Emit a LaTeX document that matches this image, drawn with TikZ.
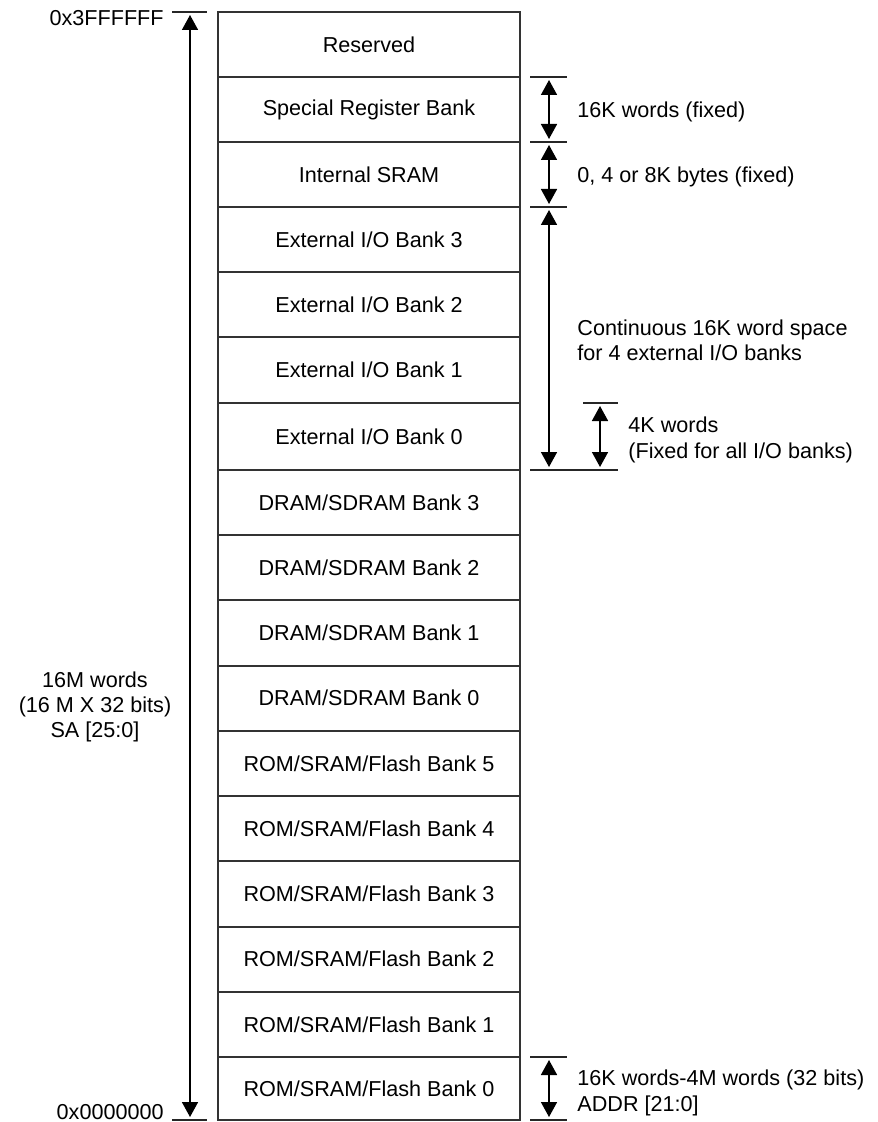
\documentclass[tikz,border=0pt]{standalone}
\usepackage{fontspec}
\setmainfont{Liberation Sans}
\usetikzlibrary{arrows.meta}
\newcommand{\memrow}[4]{\node[rowbox, minimum height={(#3-#2)*0.5pt}] (#1) at (369,{(#2+#3)/2}) {#4};}
\begin{document}
\begin{tikzpicture}[x=0.5pt,y=-0.5pt,
  every node/.style={font=\fontsize{10.8}{12.6}\selectfont, text=black, inner sep=0pt},
  rowbox/.style={draw=black!80, line width=1pt, minimum width=151pt, anchor=center},
  tickline/.style={line width=0.8pt, draw=black!85},
  dim/.style={line width=0.8pt, draw=black, {Triangle[length=7.5pt,width=8pt]}-{Triangle[length=7.5pt,width=8pt]}, shorten >=1.5pt, shorten <=1.5pt},
  lbl/.style={anchor=west, align=left}]
\useasboundingbox (0,0) rectangle (877,1122);
\fill[white] (0,0) rectangle (877,1122);
% memory map rows
\memrow{r16}{12}{77}{Reserved}
\memrow{r15}{77}{142}{Special Register Bank}
\memrow{r14}{142}{207}{Internal SRAM}
\memrow{r13}{207}{272}{External I/O Bank 3}
\memrow{r12}{272}{337}{External I/O Bank 2}
\memrow{r11}{337}{403}{External I/O Bank 1}
\memrow{r10}{403}{470}{External I/O Bank 0}
\memrow{r9}{470}{535.2}{DRAM/SDRAM Bank 3}
\memrow{r8}{535.2}{600.4}{DRAM/SDRAM Bank 2}
\memrow{r7}{600.4}{665.6}{DRAM/SDRAM Bank 1}
\memrow{r6}{665.6}{730.9}{DRAM/SDRAM Bank 0}
\memrow{r5}{730.9}{796.1}{ROM/SRAM/Flash Bank 5}
\memrow{r4}{796.1}{861.3}{ROM/SRAM/Flash Bank 4}
\memrow{r3}{861.3}{926.5}{ROM/SRAM/Flash Bank 3}
\memrow{r2}{926.5}{991.8}{ROM/SRAM/Flash Bank 2}
\memrow{r1}{991.8}{1057}{ROM/SRAM/Flash Bank 1}
\memrow{r0}{1057}{1120}{ROM/SRAM/Flash Bank 0}
% left dimension
\draw[tickline] (172,12) -- (207,12);
\draw[tickline] (172,1120) -- (207,1120);
\coordinate (lt) at (190,12);
\coordinate (lb) at (190,1120);
\draw[dim] (lt) -- (lb);
\node[anchor=east] (atop) at (164,18) {0x3FFFFFF};
\node[anchor=east] (abot) at (164,1112) {0x0000000};
\node[align=center] (size) at (95,707) {16M words\\(16 M X 32 bits)\\SA [25:0]};
% right dimensions
\draw[tickline] (530,77) -- (567,77);
\draw[tickline] (530,142) -- (567,142);
\draw[tickline] (530,207) -- (567,207);
\draw[tickline] (583,403) -- (618,403);
\draw[tickline] (530,470) -- (618,470);
\draw[tickline] (530,1057) -- (567,1057);
\draw[tickline] (530,1120) -- (567,1120);
\coordinate (a1) at (549,77);
\coordinate (a2) at (549,142);
\coordinate (a3) at (549,207);
\coordinate (a4) at (549,470);
\coordinate (b1) at (600,403);
\coordinate (b2) at (600,470);
\coordinate (c1) at (549,1057);
\coordinate (c2) at (549,1120);
\draw[dim] (a1) -- (a2);
\draw[dim] (a2) -- (a3);
\draw[dim] (a3) -- (a4);
\draw[dim] (b1) -- (b2);
\draw[dim] (c1) -- (c2);
\node[lbl] (l1) at (577,112) {16K words (fixed)};
\node[lbl] (l2) at (577,177) {0, 4 or 8K bytes (fixed)};
\node[lbl] (l3) at (577,340) {Continuous 16K word space\\for 4 external I/O banks};
\node[lbl] (l4) at (628,440) {4K words\\(Fixed for all I/O banks)};
\node[lbl] (l5) at (577,1093) {16K words-4M words (32 bits)\\ADDR [21:0]};
\end{tikzpicture}
\end{document}
